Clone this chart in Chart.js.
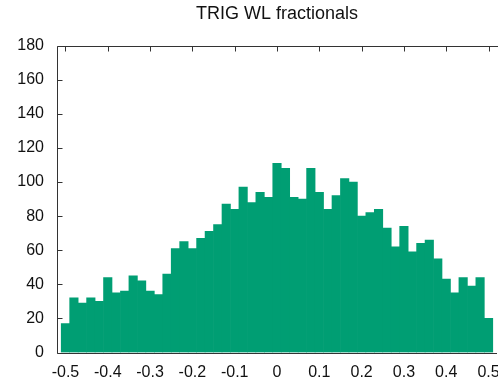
<!DOCTYPE html>
<html>
<head>
<meta charset="utf-8">
<title>TRIG WL fractionals</title>
<script src="https://cdn.jsdelivr.net/npm/chart.js@4/dist/chart.umd.min.js"></script>
<style>
  html, body { margin: 0; padding: 0; background: #fff; }
  #chart { display: block; }
</style>
</head>
<body>
<canvas id="chart" width="498" height="386"></canvas>
<script>
// histogram bins (centres, width 0.02) and counts per bin
const binCenters = [
  -0.50, -0.48, -0.46, -0.44, -0.42, -0.40, -0.38, -0.36, -0.34, -0.32,
  -0.30, -0.28, -0.26, -0.24, -0.22, -0.20, -0.18, -0.16, -0.14, -0.12,
  -0.10, -0.08, -0.06, -0.04, -0.02, 0.00, 0.02, 0.04, 0.06, 0.08,
  0.10, 0.12, 0.14, 0.16, 0.18, 0.20, 0.22, 0.24, 0.26, 0.28,
  0.30, 0.32, 0.34, 0.36, 0.38, 0.40, 0.42, 0.44, 0.46, 0.48,
  0.50
];
const counts = [
  17, 32, 29, 32, 30, 44, 35, 36, 45, 42,
  36, 34, 46, 61, 65, 61, 67, 71, 75, 87,
  84, 97, 88, 94, 91, 111, 108, 91, 90, 108,
  94, 84, 92, 102, 100, 80, 82, 84, 73, 62,
  74, 59, 64, 66, 55, 43, 35, 44, 39, 44,
  20
];
const xTickValues = [-0.5, -0.4, -0.3, -0.2, -0.1, 0, 0.1, 0.2, 0.3, 0.4, 0.5];
const yTickValues = [0, 20, 40, 60, 80, 100, 120, 140, 160, 180];

const FONT = "'Liberation Sans', Arial, Helvetica, sans-serif";
const AXIS_COLOR = '#333';

// gnuplot-like frame: left/bottom axes, top border, inward tick marks
const frame = {
  id: 'frame',
  afterDatasetsDraw(chart) {
    const { ctx, chartArea: a, scales } = chart;
    const L = Math.round(a.left) + 0.5;
    const B = Math.round(a.bottom) + 0.5;
    const T = Math.round(a.top) + 0.5;
    const tick = 5;
    ctx.save();
    ctx.strokeStyle = AXIS_COLOR;
    ctx.lineWidth = 1;
    ctx.beginPath();
    ctx.moveTo(L, T);
    ctx.lineTo(L, B);
    ctx.lineTo(a.right, B);
    ctx.moveTo(L, T);
    ctx.lineTo(chart.width, T);
    yTickValues.forEach(v => {
      const y = Math.round(scales.y.getPixelForValue(v)) + 0.5;
      ctx.moveTo(L, y);
      ctx.lineTo(L + tick, y);
    });
    xTickValues.forEach(v => {
      const x = Math.round(scales.x.getPixelForValue(v)) + 0.5;
      ctx.moveTo(x, T);
      ctx.lineTo(x, T + tick);
    });
    ctx.stroke();
    ctx.restore();
  }
};

new Chart(document.getElementById('chart'), {
  type: 'bar',
  data: {
    datasets: [{
      data: binCenters.map((x, i) => ({ x, y: counts[i] })),
      backgroundColor: '#009e73',
      borderWidth: 0,
      barPercentage: 1,
      categoryPercentage: 1
    }]
  },
  options: {
    responsive: false,
    animation: false,
    devicePixelRatio: 1,
    layout: { padding: { left: 0, right: 1, top: 0, bottom: 0 } },
    plugins: {
      legend: { display: false },
      tooltip: { enabled: false },
      title: {
        display: true,
        text: 'TRIG WL fractionals',
        fullSize: false,
        color: '#111',
        font: { family: FONT, size: 18, weight: 'normal' },
        padding: { top: 3, bottom: 21 }
      }
    },
    scales: {
      x: {
        type: 'linear',
        offset: false,
        min: -0.52,
        max: 0.52,
        grid: { display: false, drawTicks: false },
        border: { display: false },
        afterBuildTicks: s => { s.ticks = xTickValues.map(v => ({ value: v })); },
        afterFit: s => { s.height = 33.5; s.paddingLeft = 0; s.paddingRight = 0; },
        ticks: {
          color: '#111',
          padding: 10,
          maxRotation: 0,
          autoSkip: false,
          font: { family: FONT, size: 16 },
          callback: v => String(Number(v.toFixed(1)))
        }
      },
      y: {
        min: 0,
        max: 180,
        grid: { display: false, drawTicks: false },
        border: { display: false },
        afterBuildTicks: s => { s.ticks = yTickValues.map(v => ({ value: v })); },
        afterFit: s => { s.width = 57; },
        ticks: {
          color: '#111',
          padding: 13,
          font: { family: FONT, size: 16 }
        }
      }
    }
  },
  plugins: [frame]
});
</script>
</body>
</html>
